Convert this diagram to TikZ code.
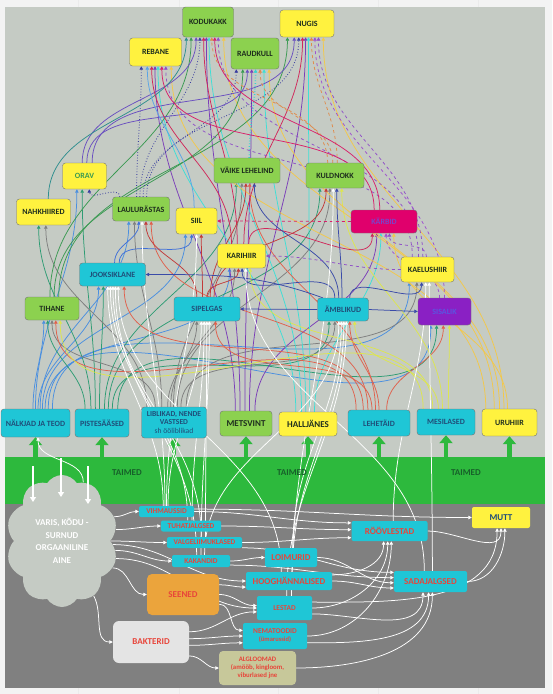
\documentclass[tikz,border=0pt]{standalone}
\usepackage{fontspec}
\setmainfont{Carlito}
\usetikzlibrary{arrows.meta,shapes.symbols}

% box fills
\definecolor{sheet}{HTML}{F3F3F3}
\definecolor{panel}{HTML}{C5CBC4}
\definecolor{soil}{HTML}{808080}
\definecolor{grass}{HTML}{2DB93D}
\definecolor{cyanbox}{HTML}{1FC6D6}
\definecolor{yellowbox}{HTML}{FFF23F}
\definecolor{greenbox}{HTML}{8CD14F}
\definecolor{stoatbox}{HTML}{E0006C}
\definecolor{lizardbox}{HTML}{8A20C4}
\definecolor{fungusbox}{HTML}{EBA43C}
\definecolor{germbox}{HTML}{E4E4E4}
\definecolor{protobox}{HTML}{C7C89A}
% text colours
\definecolor{navytext}{HTML}{1F4E79}
\definecolor{darktext}{HTML}{1E2E1E}
\definecolor{redtext}{HTML}{E8453A}
\definecolor{leaftext}{HTML}{17602A}
\definecolor{stoattext}{HTML}{7B43C9}
\definecolor{lizardtext}{HTML}{5B55E0}
% link colours
\definecolor{eSnail}{HTML}{4A8FE0}
\definecolor{eMidge}{HTML}{2E9C74}
\definecolor{eMoth}{HTML}{7F7F7F}
\definecolor{eFinch}{HTML}{7B3DB8}
\definecolor{eHare}{HTML}{3EDFD6}
\definecolor{eAphid}{HTML}{E0604C}
\definecolor{eBee}{HTML}{DDE64E}
\definecolor{eVole}{HTML}{F3C84A}
\definecolor{eTit}{HTML}{3A9A52}
\definecolor{eThrush}{HTML}{3B3FA0}
\definecolor{eSquirrel}{HTML}{6A4FC0}
\definecolor{eShrew}{HTML}{D0285A}
\definecolor{eMouse}{HTML}{9050C8}
\definecolor{eLizard}{HTML}{A050D0}
\definecolor{eStarling}{HTML}{E08A4A}
\definecolor{eStoat}{HTML}{D8206A}
\definecolor{eAnt}{HTML}{C23A3A}
\definecolor{eSpider}{HTML}{3A4BA8}
\definecolor{eBeetle}{HTML}{3F6FD8}
\definecolor{eWren}{HTML}{35D4D4}
\definecolor{eBat}{HTML}{2E8E8E}
\definecolor{eHedge}{HTML}{5AA5E6}

\pgfdeclarelayer{back}
\pgfdeclarelayer{links}
\pgfsetlayers{back,links,main}

\begin{document}
\begin{tikzpicture}[x=1pt, y=1pt,
    box/.style={rectangle, rounded corners=3, draw=black!55, line width=0.4pt, inner sep=1pt, align=center, font=\fontsize{8}{9}\selectfont\bfseries},
    cbox/.style={box, fill=cyanbox, text=navytext},
    ybox/.style={box, fill=yellowbox, text=darktext},
    gbox/.style={box, fill=greenbox, text=darktext},
    sbox/.style={rectangle, rounded corners=2, fill=cyanbox, inner sep=0.5pt, align=center, text=redtext, font=\fontsize{7.4}{8}\selectfont\bfseries},
    big/.style={font=\fontsize{9}{10}\selectfont\bfseries},
    flow/.style={line width=0.75pt, -{Triangle[length=3.5pt,width=3.5pt]}},
    soilflow/.style={flow, white},
    sprout/.style={draw=grass, line width=4.5pt, -{Triangle[length=8pt,width=13pt]}},
    drop/.style={draw=white, line width=1.6pt, -{Triangle[length=5pt,width=6pt]}},
    rise/.style={out=90, in=-90},
    across/.style={out=0, in=180},
    lift/.style={out=0, in=-90}]

    \useasboundingbox (0,0) rectangle (552,-694);

    % --- Background: sheet, panels and the plant band ---
    \begin{pgfonlayer}{back}
        \fill[sheet] (0,0) rectangle (552,-694);
        \foreach \x in {78,179,278,378,478}
            \draw[black!8] (\x,0) -- (\x,-694);
        \fill[panel] (5,-7) rectangle (545,-457);
        \fill[grass] (5,-457) rectangle (545,-504);
        \fill[soil] (5,-504) rectangle (545,-688);
    \end{pgfonlayer}
    \coordinate (bandtop) at (0,-457);

    \node[font=\fontsize{9}{10}\selectfont\bfseries, text=leaftext] (taimed1) at (127,-473) {TAIMED};
    \node[font=\fontsize{9}{10}\selectfont\bfseries, text=leaftext] (taimed2) at (292,-473) {TAIMED};
    \node[font=\fontsize{9}{10}\selectfont\bfseries, text=leaftext] (taimed3) at (466,-473) {TAIMED};

    % --- Top predators ---
    \node[gbox, minimum width=51, minimum height=30] (kodukakk) at (208,-22) {KODUKAKK};
    \node[ybox, minimum width=54, minimum height=27] (nugis) at (307,-23.5) {NUGIS};
    \node[ybox, minimum width=52, minimum height=28] (rebane) at (155.5,-52) {REBANE};
    \node[gbox, minimum width=48, minimum height=31] (raudkull) at (255,-53.5) {RAUDKULL};

    % --- Middle of the web ---
    \node[ybox, text=eTit, minimum width=44, minimum height=26] (orav) at (84.5,-176) {ORAV};
    \node[gbox, minimum width=66, minimum height=25] (lehelind) at (247,-170.5) {VÄIKE LEHELIND};
    \node[gbox, minimum width=58, minimum height=25] (kuldnokk) at (335,-175.5) {KULDNOKK};
    \node[ybox, minimum width=54, minimum height=26] (nahkhiired) at (43.5,-212) {NAHKHIIRED};
    \node[gbox, minimum width=57, minimum height=24] (laulur) at (141,-209) {LAULURÄSTAS};
    \node[ybox, minimum width=41, minimum height=26] (siil) at (196.5,-221) {SIIL};
    \node[box, fill=stoatbox, text=stoattext, minimum width=66, minimum height=23] (karbid) at (384,-221.5) {KÄRBID};
    \node[ybox, minimum width=48, minimum height=24] (karihiir) at (241.7,-256) {KARIHIIR};
    \node[ybox, minimum width=53, minimum height=25] (kaelus) at (427.5,-269.5) {KAELUSHIIR};
    \node[cbox, minimum width=66, minimum height=23] (jooksik) at (112.5,-274.5) {JOOKSIKLANE};
    \node[gbox, minimum width=54, minimum height=23] (tihane) at (52,-308.5) {TIHANE};
    \node[cbox, minimum width=66, minimum height=24] (sipelgas) at (207,-309) {SIPELGAS};
    \node[cbox, minimum width=51, minimum height=23] (amblikud) at (343,-309.5) {ÄMBLIKUD};
    \node[box, fill=lizardbox, text=lizardtext, minimum width=53, minimum height=27] (sisalik) at (444.5,-311.5) {SISALIK};

    % --- Prey row above the plants ---
    \node[cbox, minimum width=69, minimum height=28] (nalkjad) at (35.5,-423) {NÄLKJAD JA TEOD};
    \node[cbox, minimum width=54, minimum height=28] (pistes) at (102,-423) {PISTESÄÄSED};
    \node[cbox, minimum width=65, minimum height=31, font=\fontsize{7.6}{8.2}\selectfont\bfseries] (liblikad) at (174,-422.5) {LIBLIKAD, NENDE\\VASTSED\\{\mdseries sh ööliblikad}};
    \node[gbox, big, minimum width=52, minimum height=25] (metsvint) at (246,-423.5) {METSVINT};
    \node[ybox, big, minimum width=58, minimum height=24] (halljanes) at (308,-424) {HALLJÄNES};
    \node[cbox, minimum width=62, minimum height=26] (lehetaid) at (379,-423) {LEHETÄID};
    \node[cbox, minimum width=58, minimum height=26] (mesilased) at (446,-422) {MESILASED};
    \node[ybox, minimum width=55, minimum height=27] (uruhiir) at (509.5,-422.5) {URUHIIR};

    % --- Soil ---
    \node[cloud, cloud puffs=10, cloud puff arc=115, cloud ignores aspect, minimum width=112, minimum height=132, inner sep=0, fill=panel, text=white, align=center, font=\fontsize{9}{12.5}\selectfont\bfseries] (varis) at (62,-541) {VARIS, KÕDU -\\SURNUD\\ORGAANILINE\\AINE};
    \node[sbox, minimum width=55, minimum height=11] (vihmaussid) at (166.5,-511.5) {VIHMAUSSID};
    \node[sbox, minimum width=60, minimum height=11] (tuhatjalgsed) at (191,-526) {TUHATJALGSED};
    \node[sbox, minimum width=75, minimum height=11] (valgeliimuklased) at (204.5,-542.5) {VALGELIIMUKLASED};
    \node[sbox, minimum width=58, minimum height=12] (kakandid) at (201,-561) {KAKANDID};
    \node[sbox, big, minimum width=52, minimum height=19] (loimurid) at (291,-557.5) {LOIMURID};
    \node[sbox, big, minimum width=86, minimum height=18] (hooghannalised) at (289,-581) {HOOGHÄNNALISED};
    \node[sbox, minimum width=55, minimum height=24] (lestad) at (284.5,-608) {LESTAD};
    \node[sbox, minimum width=64, minimum height=26] (nematoodid) at (275,-636) {NEMATOODID\\{\fontsize{6.5}{7.5}\selectfont(ümarussid)}};
    \node[sbox, big, minimum width=76, minimum height=20] (rooblestad) at (389.5,-531) {RÖÖVLESTAD};
    \node[sbox, big, minimum width=73, minimum height=21] (sadajalgsed) at (430.5,-581.5) {SADAJALGSED};
    \node[sbox, big, fill=yellowbox, text=navytext, minimum width=58, minimum height=21] (mutt) at (501,-517.5) {MUTT};
    \node[sbox, big, fill=fungusbox, rounded corners=5, minimum width=72, minimum height=41] (seened) at (183,-594.5) {SEENED};
    \node[sbox, big, fill=germbox, rounded corners=6, minimum width=76, minimum height=42] (bakterid) at (151,-642) {BAKTERID};
    \node[sbox, fill=protobox, rounded corners=4, minimum width=77, minimum height=34, font=\fontsize{6.8}{8}\selectfont\bfseries] (algloomad) at (257.5,-668) {ALGLOOMAD\\(amööb, kingloom,\\viburlased jne};

    \begin{pgfonlayer}{links}
    % --- Plants feed the prey row ---
    \foreach \n in {nalkjad,pistes,liblikad,metsvint,halljanes,lehetaid,mesilased,uruhiir}
        \draw[sprout] (\n.south |- bandtop) -- (\n.south);
    \end{pgfonlayer}

    % --- Litter falls into the cloud ---
    \foreach \x/\y/\z in {33/-466/-502,61/-458/-497,88/-466/-504} {
        \coordinate (fall\x) at (\x,\y);
        \coordinate (land\x) at (\x,\z);
        \draw[drop] (fall\x) -- (land\x);
    }

    \begin{pgfonlayer}{links}
    % --- Prey row to predators ---
    \foreach \a/\p/\b/\q in {nalkjad/100/tihane/-125, nalkjad/90/orav/-120, nalkjad/80/jooksik/-140, nalkjad/72/laulur/-135,
        nalkjad/64/siil/-130, nalkjad/56/karihiir/-135, nalkjad/48/sisalik/-135, nalkjad/40/kaelus/-145}
        \draw[flow, eSnail] (\a.\p) to[rise] (\b.\q);
    \foreach \a/\p/\b/\q in {pistes/140/tihane/-110, pistes/128/nahkhiired/-110, pistes/115/orav/-100, pistes/100/jooksik/-128,
        pistes/80/lehelind/-130, pistes/66/kuldnokk/-140, pistes/54/amblikud/-140, pistes/42/sisalik/-120}
        \draw[flow, eMidge] (\a.\p) to[rise] (\b.\q);
    \foreach \a/\p/\b/\q in {liblikad/150/nahkhiired/-80, liblikad/140/tihane/-90, liblikad/128/laulur/-118, liblikad/112/sipelgas/-130,
        liblikad/102/karihiir/-120, liblikad/92/lehelind/-112, liblikad/78/kuldnokk/-112, liblikad/66/amblikud/-125, liblikad/52/kaelus/-130}
        \draw[flow, eMoth] (\a.\p) to[rise] (\b.\q);
    \foreach \a/\p/\b/\q in {metsvint/130/rebane/-92, metsvint/115/kodukakk/-96, metsvint/95/raudkull/-102, metsvint/75/nugis/-96, metsvint/55/karbid/-122}
        \draw[flow, eFinch] (\a.\p) to[rise] (\b.\q);
    \foreach \a/\p/\b/\q in {halljanes/135/rebane/-80, halljanes/118/kodukakk/-86, halljanes/100/raudkull/-60, halljanes/82/nugis/-84, halljanes/62/karbid/-105}
        \draw[flow, eHare] (\a.\p) to[rise] (\b.\q);
    \foreach \a/\p/\b/\q in {lehetaid/150/tihane/-72, lehetaid/140/jooksik/-45, lehetaid/130/laulur/-50, lehetaid/118/sipelgas/-55,
        lehetaid/105/lehelind/-78, lehetaid/90/amblikud/-60, lehetaid/60/sisalik/-95}
        \draw[flow, eAphid] (\a.\p) to[rise] (\b.\q);
    \foreach \a/\p/\b/\q in {mesilased/150/tihane/-55, mesilased/135/karihiir/-55, mesilased/120/amblikud/-45, mesilased/105/kuldnokk/-62, mesilased/80/sisalik/-70}
        \draw[flow, eBee] (\a.\p) to[rise] (\b.\q);
    \foreach \a/\p/\b/\q in {uruhiir/150/rebane/-42, uruhiir/138/kodukakk/-44, uruhiir/126/raudkull/-48, uruhiir/112/nugis/-40, uruhiir/98/karbid/-50}
        \draw[flow, eVole] (\a.\p) to[rise] (\b.\q);

    % --- Middle to top ---
    \foreach \a/\p/\b/\q in {tihane/100/kodukakk/-138, tihane/80/raudkull/-128, tihane/60/nugis/-145}
        \draw[flow, eTit] (\a.\p) to[rise] (\b.\q);
    \foreach \a/\p/\b/\q in {laulur/110/rebane/-135, laulur/95/kodukakk/-118, laulur/80/raudkull/-140, laulur/65/nugis/-121, laulur/150/orav/-70}
        \draw[flow, eThrush, dotted, line width=0.9pt] (\a.\p) to[rise] (\b.\q);
    \foreach \a/\p/\b/\q in {orav/100/kodukakk/-128, orav/80/raudkull/-116, orav/60/nugis/-133}
        \draw[flow, eSquirrel] (\a.\p) to[rise] (\b.\q);
    \draw[flow, eBat] (nahkhiired.70) to[rise] (kodukakk.-145);
    \draw[flow, eHedge] (siil.100) to[rise] (rebane.-120);
    \foreach \a/\p/\b/\q in {karihiir/130/rebane/-105, karihiir/110/kodukakk/-106, karihiir/80/nugis/-108, karihiir/60/karbid/-135}
        \draw[flow, eShrew] (\a.\p) to[rise] (\b.\q);
    \foreach \a/\p/\b/\q in {kaelus/140/rebane/-54, kaelus/125/kodukakk/-56, kaelus/110/nugis/-50, kaelus/95/karbid/-65}
        \draw[flow, eMouse, dashed] (\a.\p) to[rise] (\b.\q);
    \foreach \a/\p/\b/\q in {sisalik/110/karbid/-80, sisalik/90/nugis/-60}
        \draw[flow, eLizard, dashed] (\a.\p) to[rise] (\b.\q);
    \draw[flow, eWren, dotted, line width=1.5pt] (lehelind.80) to[rise] (raudkull.-88);
    \foreach \a/\p/\b/\q in {kuldnokk/120/kodukakk/-76, kuldnokk/100/raudkull/-72, kuldnokk/80/nugis/-72}
        \draw[flow, eStarling, dashed] (\a.\p) to[rise] (\b.\q);
    \foreach \a/\p/\b/\q in {karbid/130/rebane/-66, karbid/110/kodukakk/-66}
        \draw[flow, eStoat] (\a.\p) to[rise] (\b.\q);
    \foreach \a/\p/\b/\q in {jooksik/80/laulur/-100, jooksik/60/siil/-110}
        \draw[flow, eBeetle] (\a.\p) to[rise] (\b.\q);
    \foreach \a/\p/\b/\q in {sipelgas/130/laulur/-68, sipelgas/110/siil/-70, sipelgas/90/karihiir/-105, sipelgas/75/lehelind/-95, sipelgas/60/kuldnokk/-125}
        \draw[flow, eAnt] (\a.\p) to[rise] (\b.\q);
    \foreach \a/\p/\b/\q in {amblikud/125/karihiir/-88, amblikud/110/lehelind/-60, amblikud/95/kuldnokk/-82, amblikud/60/kaelus/-115}
        \draw[flow, eSpider] (\a.\p) to[rise] (\b.\q);
    \draw[flow, eSpider] (amblikud.west) -- (sipelgas.east);
    \draw[flow, eSpider] (amblikud.east) -- (sisalik.west);
    \draw[flow, eSpider] (amblikud.150) to[out=160, in=0] (jooksik.east);
    \draw[flow, eMouse, dashed] (kaelus.west) to[out=180, in=0] (karihiir.east);
    \draw[flow, eStoat, dashed] (karbid.west) -- (siil.east);

    % --- Soil animals up through the plants ---
    \foreach \a/\p/\b/\q in {vihmaussid/120/jooksik/-112, vihmaussid/105/laulur/-85, vihmaussid/90/siil/-90, vihmaussid/75/sipelgas/-115,
        tuhatjalgsed/120/jooksik/-100, tuhatjalgsed/80/sipelgas/-103, valgeliimuklased/120/jooksik/-88, valgeliimuklased/80/sipelgas/-91,
        kakandid/125/jooksik/-76, kakandid/90/sipelgas/-79, kakandid/60/amblikud/-110, loimurid/80/amblikud/-98,
        hooghannalised/130/jooksik/-64, hooghannalised/70/amblikud/-86, lestad/80/amblikud/-74, lestad/60/kuldnokk/-98,
        sadajalgsed/120/karihiir/-72, sadajalgsed/80/kaelus/-82, rooblestad/70/kaelus/-98, varis/70/nalkjad/-80}
        \draw[soilflow] (\a.\p) to[rise] (\b.\q);

    % --- Inside the soil ---
    \foreach \a/\b in {varis.25/vihmaussid.west, varis.12/tuhatjalgsed.west, varis.0/valgeliimuklased.west, varis.-10/kakandid.west,
        varis.-4/hooghannalised.west, varis.-18/lestad.west, varis.-28/seened.west,
        seened.15/hooghannalised.-172, seened.0/lestad.175, seened.-15/nematoodid.170,
        bakterid.15/lestad.-172, bakterid.5/nematoodid.180, bakterid.-5/nematoodid.-168, bakterid.-20/algloomad.west,
        vihmaussid.east/rooblestad.168, vihmaussid.5/mutt.west, tuhatjalgsed.east/rooblestad.178, valgeliimuklased.east/rooblestad.-170,
        valgeliimuklased.-8/sadajalgsed.166, kakandid.east/loimurid.west, kakandid.-8/sadajalgsed.174,
        loimurid.east/sadajalgsed.-178, hooghannalised.east/sadajalgsed.-170}
        \draw[soilflow] (\a) to[across] (\b);
    \draw[soilflow] (varis.-60) to[out=-60, in=180] (bakterid.west);
    \foreach \a/\b in {hooghannalised.8/rooblestad.-120, lestad.east/rooblestad.-100, lestad.-12/sadajalgsed.-125,
        nematoodid.east/rooblestad.-80, nematoodid.-12/sadajalgsed.-100, algloomad.east/sadajalgsed.-80,
        lestad.12/mutt.-110, sadajalgsed.east/mutt.-70, rooblestad.east/mutt.-90}
        \draw[soilflow] (\a) to[lift] (\b);
    \end{pgfonlayer}
\end{tikzpicture}
\end{document}
